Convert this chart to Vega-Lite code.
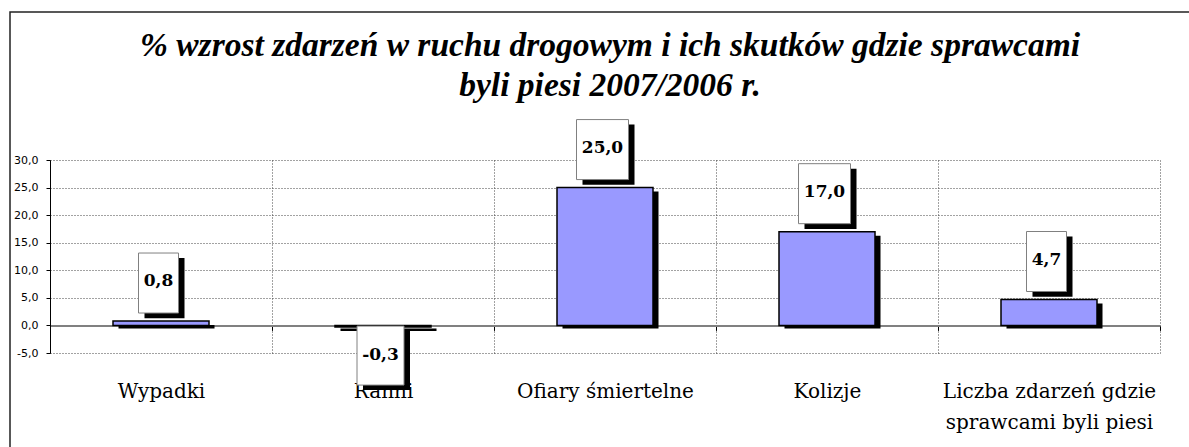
{
  "$schema": "https://vega.github.io/schema/vega-lite/v6.json",
  "width": 1190,
  "height": 448,
  "autosize": {"type": "none"},
  "padding": {"left": 10, "top": 12, "right": -11, "bottom": -13},
  "background": "white",
  "title": {
    "text": ["% wzrost zdarzeń w ruchu drogowym i ich skutków gdzie sprawcami", "byli piesi 2007/2006 r."],
    "font": "Liberation Serif",
    "fontSize": 33.5,
    "fontWeight": "bold",
    "fontStyle": "italic",
    "lineHeight": 40,
    "anchor": "middle",
    "frame": "group",
    "baseline": "alphabetic",
    "color": "black",
    "offset": 0,
    "dy": 117,
    "dx": 5
  },
  "config": {
    "locale": {"number": {"decimal": ",", "thousands": " ", "grouping": [3], "currency": ["", " zł"], "minus": "-"}},
    "view": {"stroke": "#222222", "strokeWidth": 1.5}
  },
  "data": {
    "values": [
      {"k": "Wypadki", "v": 0.8},
      {"k": "Ranni", "v": -0.3},
      {"k": "Ofiary śmiertelne", "v": 25.0},
      {"k": "Kolizje", "v": 17.0},
      {"k": "Liczba zdarzeń gdzie sprawcami byli piesi", "v": 4.7}
    ]
  },
  "resolve": {"axis": {"x": "independent"}},
  "layer": [
    {
      "mark": {"type": "bar", "color": "black", "width": 96, "xOffset": 5.5, "yOffset": 4, "y2Offset": 3},
      "encoding": {
        "x": {
          "field": "k", "type": "nominal", "sort": null,
          "scale": {"domain": ["Wypadki", "Ranni", "Ofiary śmiertelne", "Kolizje", "Liczba zdarzeń gdzie sprawcami byli piesi"], "range": [40, 1150], "paddingInner": 0, "paddingOuter": 0},
          "axis": {"orient": "top", "grid": true, "tickBand": "extent", "domain": false, "ticks": false, "labels": false, "title": null, "gridColor": "#444444", "gridDash": [1, 2], "gridWidth": 1}
        },
        "y": {
          "field": "v", "type": "quantitative", "title": null,
          "scale": {"domain": [-5, 30], "range": [341, 148], "nice": false, "zero": false},
          "axis": {
            "orient": "left", "offset": -40, "values": [-5, 0, 5, 10, 15, 20, 25, 30], "format": ".1f",
            "grid": true, "gridColor": "#444444", "gridDash": [1, 2], "gridWidth": 1,
            "domainColor": "black", "domainWidth": 1, "tickColor": "black", "tickSize": 4, "tickWidth": 1,
            "labelFont": "DejaVu Sans", "labelFontSize": 11, "labelColor": "black", "labelPadding": 8, "title": null
          }
        },
        "y2": {"datum": 0}
      }
    },
    {
      "mark": {"type": "bar", "fill": "#9999FF", "stroke": "black", "strokeWidth": 1.5, "width": 96},
      "encoding": {
        "x": {
          "field": "k", "type": "nominal", "sort": null,
          "axis": {
            "orient": "bottom", "offset": -134.6, "tickBand": "extent", "grid": false,
            "domainColor": "#808080", "domainWidth": 2, "tickColor": "black", "tickSize": 5, "tickWidth": 1,
            "labelFont": "DejaVu Serif", "labelFontSize": 20, "labelColor": "black", "labelPadding": 51,
            "labelBaseline": "top", "labelLineHeight": 31, "labelAngle": 0, "labelLimit": 0, "labelOverlap": false,
            "labelExpr": "datum.label == 'Liczba zdarzeń gdzie sprawcami byli piesi' ? ['Liczba zdarzeń gdzie', 'sprawcami byli piesi'] : datum.label",
            "title": null
          }
        },
        "y": {"field": "v", "type": "quantitative", "title": null},
        "y2": {"datum": 0}
      }
    },
    {
      "transform": [{"filter": "datum.v >= 0"}],
      "mark": {"type": "bar", "color": "black", "width": {"expr": "length(format(datum.v, '.1f')) * 12 + 4"}, "xOffset": 3.5, "yOffset": -63, "y2Offset": -2.7},
      "encoding": {
        "x": {"field": "k", "type": "nominal", "sort": null, "axis": null},
        "y": {"field": "v", "type": "quantitative", "title": null},
        "y2": {"field": "v"}
      }
    },
    {
      "transform": [{"filter": "datum.v >= 0"}],
      "mark": {"type": "bar", "fill": "white", "stroke": "#808080", "strokeWidth": 1, "width": {"expr": "length(format(datum.v, '.1f')) * 12 + 4"}, "xOffset": -2.5, "yOffset": -68, "y2Offset": -8},
      "encoding": {
        "x": {"field": "k", "type": "nominal", "sort": null, "axis": null},
        "y": {"field": "v", "type": "quantitative", "title": null},
        "y2": {"field": "v"}
      }
    },
    {
      "transform": [{"filter": "datum.v < 0"}],
      "mark": {"type": "bar", "color": "black", "width": {"expr": "length(format(datum.v, '.1f')) * 11 + 3"}, "xOffset": 3.5, "yOffset": 4, "y2Offset": 63},
      "encoding": {
        "x": {"field": "k", "type": "nominal", "sort": null, "axis": null},
        "y": {"field": "v", "type": "quantitative", "title": null},
        "y2": {"field": "v"}
      }
    },
    {
      "transform": [{"filter": "datum.v < 0"}],
      "mark": {"type": "bar", "fill": "white", "stroke": "#808080", "strokeWidth": 1, "width": {"expr": "length(format(datum.v, '.1f')) * 11 + 3"}, "xOffset": -2.5, "yOffset": -1, "y2Offset": 58},
      "encoding": {
        "x": {"field": "k", "type": "nominal", "sort": null, "axis": null},
        "y": {"field": "v", "type": "quantitative", "title": null},
        "y2": {"field": "v"}
      }
    },
    {
      "transform": [{"filter": "datum.v >= 0"}],
      "mark": {"type": "text", "font": "DejaVu Serif", "fontWeight": "bold", "fontSize": 17, "color": "black", "align": "center", "baseline": "alphabetic", "xOffset": -2.5, "yOffset": -35},
      "encoding": {
        "x": {"field": "k", "type": "nominal", "sort": null, "axis": null},
        "y": {"field": "v", "type": "quantitative", "title": null},
        "text": {"field": "v", "type": "quantitative", "format": ".1f"}
      }
    },
    {
      "transform": [{"filter": "datum.v < 0"}],
      "mark": {"type": "text", "font": "DejaVu Serif", "fontWeight": "bold", "fontSize": 17, "color": "black", "align": "center", "baseline": "alphabetic", "xOffset": -2.5, "yOffset": 33},
      "encoding": {
        "x": {"field": "k", "type": "nominal", "sort": null, "axis": null},
        "y": {"field": "v", "type": "quantitative", "title": null},
        "text": {"field": "v", "type": "quantitative", "format": ".1f"}
      }
    }
  ]
}
